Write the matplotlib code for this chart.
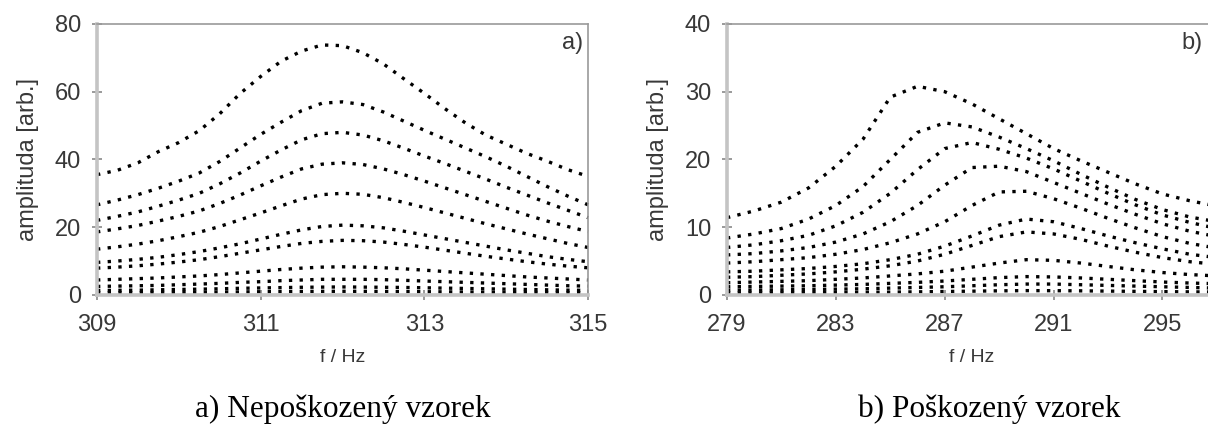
import numpy as np
import matplotlib
matplotlib.use("Agg")
import matplotlib.pyplot as plt

# frequency grids
freq_a = np.arange(309, 315.01, 0.25)
freq_b = np.arange(279, 297.01, 1.0)

# a) undamaged sample, amplitudes
a1 = [35.5, 36.8, 39.0, 42.3, 45.0, 48.5, 53.5, 59.5, 64.5, 69.0, 72.0, 73.8, 73.6, 71.5, 68.2, 63.8, 59.5, 55.0, 50.8, 47.2, 44.5, 41.8, 39.5, 37.0, 35.0]
a2 = [26.6, 28.0, 29.6, 31.5, 33.6, 36.0, 39.4, 43.4, 47.4, 51.0, 54.4, 56.6, 57.0, 56.2, 54.0, 51.3, 48.6, 46.0, 43.4, 40.8, 38.0, 35.0, 32.0, 29.2, 26.6]
a3 = [22.0, 23.2, 24.5, 26.2, 28.0, 30.0, 32.8, 36.0, 39.5, 42.8, 45.8, 47.6, 48.0, 47.2, 45.5, 43.3, 41.0, 38.8, 36.5, 34.2, 31.8, 29.5, 27.2, 25.0, 22.8]
a4 = [18.6, 19.5, 20.5, 21.8, 23.2, 24.8, 27.0, 29.5, 32.2, 34.8, 37.2, 38.6, 39.0, 38.5, 37.2, 35.5, 33.6, 31.6, 29.6, 27.6, 25.6, 23.6, 21.8, 20.2, 18.7]
a5 = [13.5, 14.2, 15.0, 16.0, 17.2, 18.5, 20.2, 22.2, 24.2, 26.3, 28.3, 29.6, 30.0, 29.7, 28.7, 27.3, 25.8, 24.2, 22.6, 21.0, 19.5, 18.0, 16.6, 15.2, 14.0]
a6 = [9.6, 10.0, 10.5, 11.1, 11.9, 12.8, 13.9, 15.1, 16.5, 17.9, 19.2, 20.2, 20.6, 20.4, 19.8, 18.8, 17.7, 16.6, 15.5, 14.4, 13.3, 12.3, 11.3, 10.5, 9.8]
a7 = [7.9, 8.2, 8.6, 9.1, 9.7, 10.4, 11.3, 12.3, 13.3, 14.3, 15.2, 15.8, 16.1, 16.0, 15.6, 14.9, 14.1, 13.2, 12.3, 11.4, 10.6, 9.8, 9.1, 8.5, 8.0]
a8 = [4.4, 4.6, 4.8, 5.0, 5.3, 5.6, 6.0, 6.5, 7.0, 7.5, 7.9, 8.2, 8.3, 8.2, 8.0, 7.7, 7.3, 6.9, 6.5, 6.1, 5.7, 5.3, 5.0, 4.7, 4.4]
a9 = [2.5, 2.6, 2.7, 2.8, 3.0, 3.2, 3.4, 3.7, 3.9, 4.2, 4.4, 4.6, 4.6, 4.6, 4.5, 4.3, 4.1, 3.9, 3.7, 3.5, 3.3, 3.1, 2.9, 2.7, 2.6]
a10 = [1.3, 1.35, 1.4, 1.5, 1.6, 1.7, 1.8, 1.95, 2.05, 2.15, 2.25, 2.3, 2.35, 2.3, 2.25, 2.2, 2.1, 2.0, 1.9, 1.8, 1.7, 1.6, 1.5, 1.4, 1.35]
a11 = [0.6, 0.62, 0.65, 0.7, 0.74, 0.78, 0.83, 0.88, 0.93, 0.98, 1.02, 1.05, 1.06, 1.05, 1.02, 0.98, 0.94, 0.9, 0.85, 0.8, 0.76, 0.72, 0.68, 0.65, 0.62]

# b) damaged sample
b1 = [11.4, 12.4, 13.7, 15.8, 19.0, 23.0, 29.2, 30.8, 30.0, 28.2, 26.0, 23.8, 21.6, 19.8, 18.1, 16.4, 14.9, 13.9, 13.1]
b2 = [8.4, 9.0, 9.8, 11.2, 13.2, 16.0, 20.0, 24.0, 25.4, 24.8, 23.3, 21.6, 19.8, 17.8, 15.9, 14.1, 12.6, 11.5, 10.8]
b3 = [7.0, 7.4, 8.0, 8.8, 10.2, 12.2, 15.0, 18.5, 21.6, 22.5, 21.5, 20.2, 18.6, 16.8, 15.0, 13.3, 11.8, 10.7, 9.8]
b4 = [5.9, 6.1, 6.5, 7.0, 7.8, 9.0, 10.8, 13.2, 16.2, 18.8, 19.0, 18.2, 16.6, 15.0, 13.4, 11.9, 10.5, 9.4, 8.6]
b5 = [4.7, 4.9, 5.2, 5.5, 6.0, 6.7, 7.7, 9.0, 10.8, 13.2, 15.2, 15.3, 14.2, 12.8, 11.3, 9.9, 8.6, 7.6, 6.9]
b6 = [3.4, 3.5, 3.7, 3.9, 4.2, 4.6, 5.2, 6.0, 7.2, 8.7, 10.3, 11.2, 10.8, 9.8, 8.7, 7.7, 6.8, 6.0, 5.5]
b7 = [2.6, 2.7, 2.9, 3.1, 3.4, 3.8, 4.3, 5.0, 6.0, 7.3, 8.6, 9.3, 9.0, 8.2, 7.2, 6.3, 5.5, 4.9, 4.5]
b8 = [1.8, 1.9, 2.0, 2.1, 2.3, 2.5, 2.8, 3.1, 3.5, 4.1, 4.7, 5.2, 5.1, 4.7, 4.2, 3.7, 3.3, 3.0, 2.8]
b9 = [1.2, 1.25, 1.3, 1.35, 1.45, 1.55, 1.7, 1.85, 2.05, 2.3, 2.55, 2.7, 2.65, 2.5, 2.3, 2.1, 1.9, 1.75, 1.65]
b10 = [0.7, 0.72, 0.75, 0.8, 0.85, 0.9, 1.0, 1.1, 1.2, 1.35, 1.5, 1.6, 1.6, 1.5, 1.4, 1.3, 1.2, 1.1, 1.0]
b11 = [0.3, 0.31, 0.32, 0.34, 0.36, 0.38, 0.41, 0.45, 0.5, 0.55, 0.6, 0.63, 0.62, 0.6, 0.56, 0.52, 0.48, 0.45, 0.42]

curves_a = [a1, a2, a3, a4, a5, a6, a7, a8, a9, a10, a11]
curves_b = [b1, b2, b3, b4, b5, b6, b7, b8, b9, b10, b11]

GREY_TXT = "#383838"


def style_axis(ax, xlim, xticks, ylim, yticks, tag, tag_x):
    ax.set_xlim(*xlim)
    ax.set_ylim(*ylim)
    ax.set_xticks(xticks)
    ax.set_yticks(yticks)
    for s in ["left", "bottom"]:
        ax.spines[s].set_color("#c4c4c4")
        ax.spines[s].set_linewidth(2.6)
    for s in ["top", "right"]:
        ax.spines[s].set_color("#9a9a9a")
        ax.spines[s].set_linewidth(1.2)
    ax.tick_params(direction="inout", length=7, width=1.4, color="#9a9a9a",
                   labelsize=17, labelcolor=GREY_TXT)
    ax.tick_params(axis="x", pad=10)
    ax.tick_params(axis="y", pad=8)
    for lab in ax.get_xticklabels() + ax.get_yticklabels():
        lab.set_family("Liberation Sans")
    ax.set_ylabel("amplituda [arb.]", fontsize=17, color=GREY_TXT,
                  family="Liberation Sans")
    ax.yaxis.set_label_coords(-0.118, 0.5)
    ax.set_xlabel("f / Hz", fontsize=14, color=GREY_TXT,
                  family=["Liberation Sans Narrow", "Liberation Sans"])
    ax.xaxis.set_label_coords(0.5, -0.2)
    ax.text(tag_x, 0.93, tag, transform=ax.transAxes, ha="right", va="center",
            fontsize=17, color=GREY_TXT, family="Liberation Sans")


fig = plt.figure(figsize=(12.08, 4.28), dpi=100)
ax1 = fig.add_axes([0.0803, 0.311, 0.4065, 0.633])
ax2 = fig.add_axes([0.6018, 0.311, 0.4056, 0.633])

for c in curves_a:
    ax1.plot(freq_a, c, color="black", lw=2.4, linestyle=(0, (1, 2.2)),
             dash_capstyle="butt", clip_on=False)
for c in curves_b:
    ax2.plot(freq_b, c, color="black", lw=2.4, linestyle=(0, (1, 2.2)),
             dash_capstyle="butt", clip_on=False)

style_axis(ax1, (309, 315), [309, 311, 313, 315], (0, 80), [0, 20, 40, 60, 80], "a)", 0.99)
style_axis(ax2, (279, 297), [279, 283, 287, 291, 295], (0, 40), [0, 10, 20, 30, 40], "b)", 0.97)

fig.text(0.284, 0.01, "a) Nepoškozený vzorek", ha="center", va="bottom",
         fontsize=22.5, family="Liberation Serif")
fig.text(0.819, 0.01, "b) Poškozený vzorek", ha="center", va="bottom",
         fontsize=22.5, family="Liberation Serif")

fig.savefig("out.png", dpi=100)
